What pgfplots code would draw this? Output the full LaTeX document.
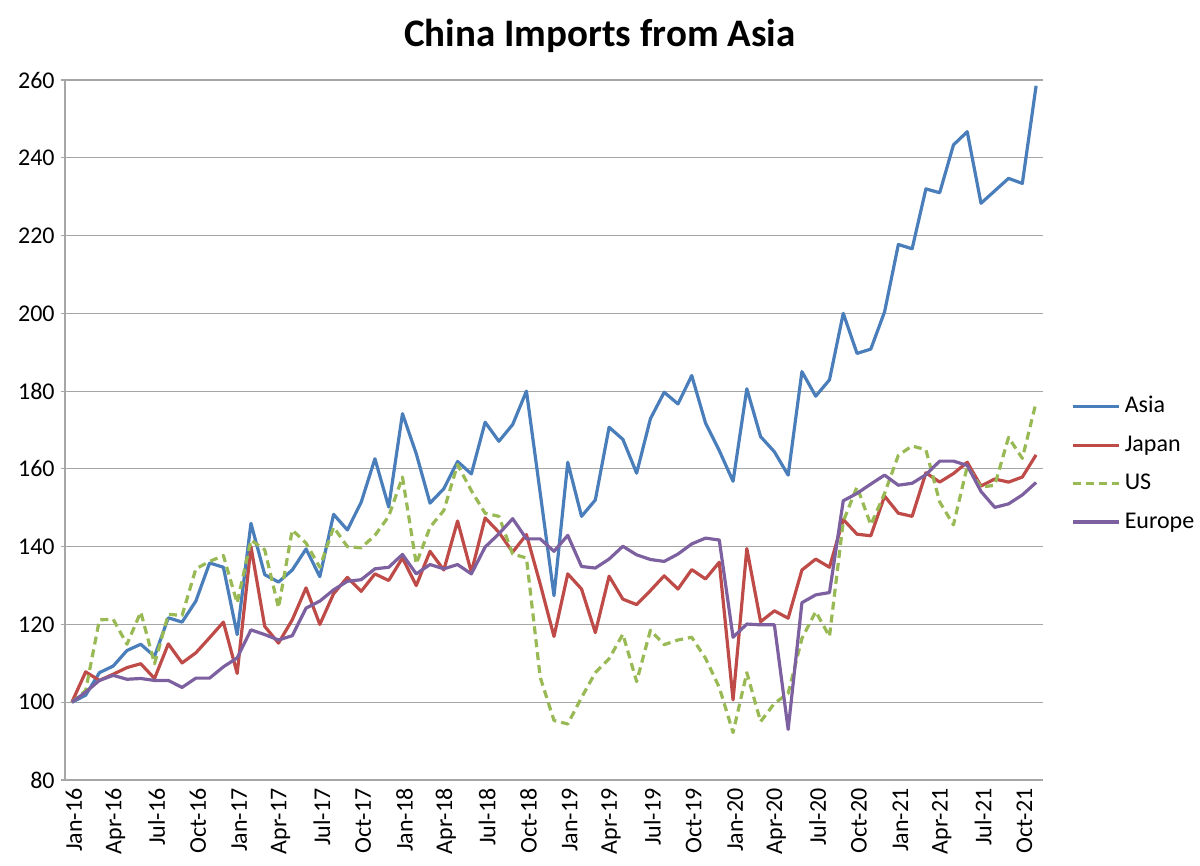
\documentclass[border=0pt]{standalone}
\usepackage{pgfplots}
\pgfplotsset{compat=1.18}
\usepackage{pgfplotstable}
\usepackage{fontspec}
\setmainfont{Carlito}
\definecolor{cAsia}{HTML}{4A7EBB}
\definecolor{cJapan}{HTML}{BE4B48}
\definecolor{cUS}{HTML}{98B954}
\definecolor{cEurope}{HTML}{7D60A0}
\definecolor{cGrid}{HTML}{A6A6A6}
\pgfplotstableread{
idx asia japan us europe
0 100 100 100 100
1 101.8 107.8 103 102.6
2 107.6 105.6 121.2 105.6
3 109.3 107.2 121.3 106.9
4 113.3 108.9 114.9 105.9
5 114.9 109.9 123.2 106.1
6 111.8 106.1 109.9 105.6
7 121.7 115.0 122.6 105.6
8 120.6 110.1 122.3 103.8
9 126.0 112.7 134.3 106.2
10 135.8 116.6 136.2 106.2
11 134.7 120.6 137.7 109.1
12 117.4 107.4 125.5 111.4
13 146.0 140.0 141.7 118.6
14 132.8 119.5 139.2 117.4
15 130.9 115.2 124.3 116.0
16 134.0 121.2 144.3 117.1
17 139.4 129.4 140.9 124.2
18 132.3 120.0 134.7 126.0
19 148.3 127.9 145.0 128.9
20 144.3 132.1 140.0 131.1
21 151.4 128.5 139.7 131.5
22 162.6 133.0 142.9 134.3
23 150.2 131.3 147.8 134.7
24 174.2 137.1 157.9 138.0
25 163.9 130.0 135.6 133.0
26 151.2 138.8 145.0 135.4
27 154.9 134.0 149.3 134.3
28 161.9 146.6 161.1 135.4
29 158.7 133.4 154.4 133.0
30 172.0 147.4 148.6 139.9
31 167.1 143.7 147.8 143.3
32 171.4 138.6 138.1 147.2
33 180.0 143.1 137.1 142.0
34 153.8 130.4 106.4 142.0
35 127.4 116.9 95.3 138.8
36 161.7 133.0 94.4 142.9
37 147.8 129.1 101.2 134.9
38 152.0 117.9 107.6 134.5
39 170.7 132.4 111.2 136.8
40 167.6 126.5 117.5 140.1
41 158.9 125.1 105.3 137.9
42 172.9 128.7 118.5 136.7
43 179.7 132.5 114.8 136.2
44 176.7 129.1 116.0 138.1
45 184.0 134.1 116.7 140.7
46 171.8 131.7 111.3 142.2
47 164.7 136.0 103.8 141.7
48 156.8 100.6 92.2 116.7
49 180.6 139.5 107.6 120.1
50 168.3 120.7 95.0 119.9
51 164.4 123.5 99.7 119.9
52 158.4 121.6 102.3 93.0
53 185.0 134.0 116.4 125.6
54 178.7 136.8 123.3 127.6
55 182.9 134.7 116.9 128.2
56 200.0 147.0 146.5 151.8
57 189.7 143.2 155.4 153.7
58 190.8 142.8 145.6 156.1
59 200.4 153.0 153.7 158.4
60 217.7 148.6 163.5 155.8
61 216.6 147.8 165.9 156.3
62 232.0 159.0 164.9 158.5
63 231.0 156.6 151.5 162.0
64 243.3 158.8 145.6 162.0
65 246.7 161.7 160.6 160.9
66 228.3 155.6 155.3 154.2
67 231.5 157.4 155.8 150.1
68 234.7 156.6 168.1 151.0
69 233.4 157.9 162.7 153.3
70 258.5 163.6 177.1 156.5
}\datatable
\begin{document}
\begin{tikzpicture}
\path[use as bounding box] (0,0) rectangle (600pt,433pt);
\begin{axis}[
  at={(32.5pt,43pt)}, anchor=south west,
  scale only axis, width=489pt, height=350pt,
  xmin=-0.5, xmax=70.5, ymin=80, ymax=260,
  ytick={80,100,...,260},
  xtick={0,3,...,69},
  xticklabels={Jan-16,Apr-16,Jul-16,Oct-16,Jan-17,Apr-17,Jul-17,Oct-17,Jan-18,Apr-18,Jul-18,Oct-18,Jan-19,Apr-19,Jul-19,Oct-19,Jan-20,Apr-20,Jul-20,Oct-20,Jan-21,Apr-21,Jul-21,Oct-21},
  extra x ticks={-0.5,2.5,...,68.5},
  extra x tick labels={},
  extra x tick style={major tick length=5pt, tick style={draw=cGrid, line width=0.6pt}},
  x tick style={draw=none},
  y tick style={draw=cGrid, line width=0.6pt},
  major tick length=4pt,
  tick align=outside,
  axis lines=left,
  axis line style={-, draw=cGrid, line width=0.6pt},
  ymajorgrids, grid style={draw=cGrid, line width=0.6pt},
  /pgf/number format/assume math mode=true,
  ticklabel style={font=\fontsize{12}{14}\selectfont},
  xticklabel style={rotate=90, anchor=east, inner sep=2pt, yshift=-1pt},
  yticklabel style={inner sep=3pt},
  title={China Imports from Asia},
  title style={font=\fontsize{19.5}{22}\selectfont\bfseries, at={(0.547,1)}, anchor=center, yshift=16pt},
  legend style={draw=none, fill=none, font=\fontsize{12}{14}\selectfont, at={(1.022,0.56)}, anchor=north west, row sep=6pt, cells={anchor=west}},
  legend image code/.code={\draw[#1] (0cm,0cm) -- (0.82cm,0cm);},
  every axis plot/.append style={line width=1.6pt, line join=round},
]
\addplot[cAsia, no markers] table[x=idx, y=asia] {\datatable};
\addlegendentry{Asia}
\addplot[cJapan, no markers] table[x=idx, y=japan] {\datatable};
\addlegendentry{Japan}
\addplot[cUS, no markers, dash pattern=on 4pt off 2.5pt] table[x=idx, y=us] {\datatable};
\addlegendentry{US}
\addplot[cEurope, no markers] table[x=idx, y=europe] {\datatable};
\addlegendentry{Europe}
\end{axis}
\end{tikzpicture}
\end{document}
